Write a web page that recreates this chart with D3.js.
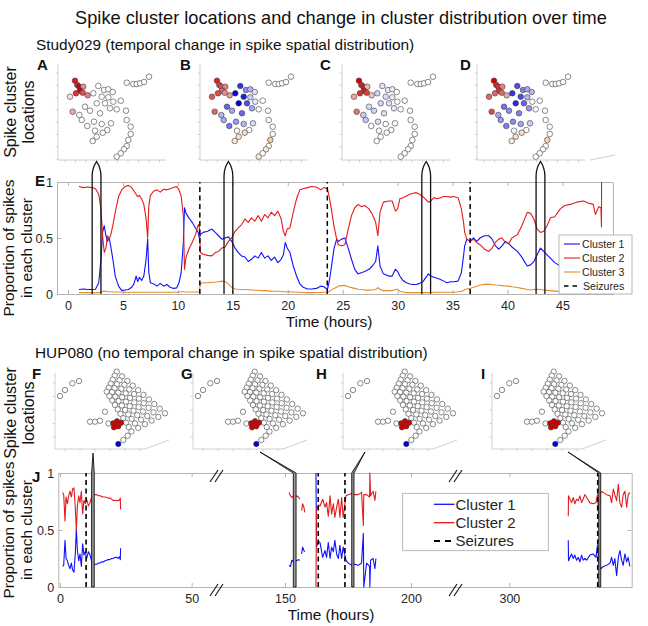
<!DOCTYPE html>
<html><head><meta charset="utf-8">
<script src="https://cdn.jsdelivr.net/npm/d3@7"></script>
<style>body{margin:0;background:#fff}</style>
</head><body>
<svg id="fig" width="648" height="626" xmlns="http://www.w3.org/2000/svg"></svg>
<script>
// ---------------- DATA ----------------
// Study029 proportion of spikes per cluster (panel E)
const timeE = [1.0,1.4,1.8,2.2,2.5,2.8,3.0,3.15,3.3,3.45,3.6,3.75,3.9,4.1,4.3,4.6,4.9,5.2,5.5,5.8,6.0,6.2,6.35,6.5,6.7,6.9,7.1,7.25,7.35,7.5,7.8,8.1,8.4,8.7,9.0,9.3,9.6,9.9,10.1,10.3,10.5,10.6,10.75,11.0,11.3,11.6,11.85,11.95,12.05,12.3,12.7,13.1,13.4,13.7,14.0,14.3,14.6,14.9,15.2,15.5,15.8,16.1,16.4,16.7,17.0,17.3,17.6,17.9,18.2,18.5,18.8,19.1,19.4,19.6,19.77,19.95,20.2,20.5,20.8,21.1,21.4,21.8,22.2,22.6,23.0,23.3,23.6,23.75,23.9,24.2,24.45,24.6,24.9,25.2,25.5,25.8,26.1,26.4,26.7,27.0,27.4,27.7,28.0,28.2,28.4,28.7,29.2,29.5,29.8,30.0,30.2,30.5,30.8,31.1,31.4,31.7,32.0,32.3,32.6,32.8,33.0,33.3,33.6,33.9,34.2,34.5,34.8,35.1,35.5,35.8,36.0,36.1,36.3,36.6,36.9,37.2,37.5,37.9,38.3,38.6,38.9,39.2,39.5,39.8,40.1,40.4,40.9,41.3,41.6,41.8,42.1,42.4,42.7,43.0,43.3,43.6,43.9,44.3,44.8,45.2,45.7,46.3,46.9,47.4,47.8,48.0,48.3,48.5,48.55,48.56];
const cluster1E = [.04,.045,.04,.04,.042,.10,.31,.55,.61,.52,.47,.50,.42,.30,.16,.07,.03,.035,.04,.06,.09,.16,.11,.15,.12,.16,.30,.49,.20,.10,.09,.07,.095,.07,.085,.06,.05,.055,.10,.19,.46,.77,.72,.68,.64,.59,.55,.50,.53,.55,.56,.58,.55,.52,.49,.50,.51,.47,.41,.37,.34,.33,.29,.31,.34,.32,.37,.32,.34,.30,.33,.28,.31,.35,.46,.41,.37,.25,.16,.09,.06,.045,.045,.05,.07,.065,.04,.10,.19,.40,.49,.47,.49,.50,.41,.31,.22,.18,.19,.20,.22,.25,.29,.43,.25,.18,.16,.16,.22,.20,.16,.12,.10,.09,.086,.085,.095,.11,.15,.18,.16,.15,.14,.13,.115,.10,.11,.11,.115,.19,.34,.43,.49,.47,.50,.47,.50,.52,.52,.49,.43,.40,.43,.47,.45,.42,.38,.33,.28,.25,.26,.29,.35,.41,.38,.35,.32,.28,.25,.22,.20,.18,.17,.16,.17,.22,.19,.20,.38,.00];
const cluster2E = [.96,.95,.955,.95,.94,.89,.76,.52,.37,.41,.52,.49,.53,.62,.73,.87,.93,.96,.97,.95,.92,.89,.87,.88,.85,.80,.68,.50,.78,.88,.92,.93,.91,.935,.93,.94,.95,.96,.93,.875,.70,.22,.33,.40,.46,.53,.62,.60,.37,.355,.345,.34,.37,.38,.41,.42,.47,.50,.56,.59,.62,.67,.64,.68,.65,.70,.65,.71,.68,.73,.70,.74,.67,.56,.52,.58,.59,.73,.85,.93,.94,.95,.96,.955,.93,.95,.94,.88,.80,.61,.49,.44,.43,.44,.58,.70,.77,.80,.78,.79,.76,.71,.64,.52,.73,.82,.83,.83,.74,.76,.85,.86,.875,.89,.90,.905,.89,.87,.84,.82,.83,.86,.85,.86,.87,.87,.865,.87,.86,.76,.64,.55,.49,.47,.49,.46,.44,.40,.38,.41,.46,.49,.50,.46,.45,.50,.53,.61,.68,.73,.72,.67,.58,.55,.56,.61,.68,.69,.76,.79,.80,.82,.83,.81,.80,.71,.78,.77,.60,1.00];
const cluster3E = [.012,.012,.012,.010,.012,.012,.015,.025,.027,.025,.020,.020,.020,.018,.018,.018,.015,.015,.015,.015,.015,.015,.015,.015,.015,.015,.015,.015,.015,.015,.015,.015,.015,.015,.015,.015,.015,.015,.018,.020,.020,.018,.018,.018,.018,.018,.018,.020,.095,.100,.100,.105,.105,.110,.115,.110,.090,.060,.045,.042,.040,.040,.038,.036,.034,.034,.030,.030,.028,.026,.025,.024,.022,.020,.020,.020,.020,.018,.016,.015,.014,.012,.012,.014,.014,.016,.018,.020,.030,.050,.060,.070,.075,.077,.065,.057,.050,.042,.040,.035,.035,.036,.040,.057,.040,.030,.030,.030,.040,.042,.025,.018,.012,.012,.012,.012,.012,.012,.012,.012,.014,.015,.015,.015,.015,.015,.015,.016,.020,.025,.030,.040,.045,.050,.060,.070,.080,.086,.086,.085,.080,.078,.075,.072,.070,.065,.058,.050,.045,.040,.036,.040,.042,.040,.036,.032,.030,.026,.022,.020,.018,.016,.016,.016,.016,.016,.016,.016,.016,.016];
const seizuresE = [12.0, 23.6, 36.6];
const windowsE = [[2.2, 3.0], [14.2, 15.0], [32.2, 33.0], [42.6, 43.4]];
const ticksE = [0, 5, 10, 15, 20, 25, 30, 35, 40, 45];
const ticksY = [0, 0.5, 1];
const legendE = ["Cluster 1", "Cluster 2", "Cluster 3", "Seizures"];

// HUP080 proportion of spikes per cluster (panel J); null = gap in recording
const timeJ = [1.0,1.4,1.9,2.3,2.8,3.3,3.8,4.3,4.8,5.3,5.8,6.2,6.6,7.1,7.6,8.1,8.6,9.1,9.6,10.1,10.8,11.4,12.0,12.6,13.3,13.9,14.6,15.2,15.8,16.4,17.1,17.7,18.3,18.9,19.6,20.2,20.9,21.5,22.0,22.5,22.9,23.0,null,
  151.6,152.2,152.7,153.3,154.0,154.6,155.3,155.9,null,156.6,157.0,157.5,157.9,null,
  162.3,162.5,163.2,163.9,164.95,165.9,166.5,167.2,167.9,168.5,169.2,169.8,170.5,171.2,171.8,172.5,173.1,174.2,175.1,176.4,177.8,179.1,180.4,181.1,181.3,182.4,183.6,183.7,184.0,185.0,185.7,186.1,null,
  323.4,323.5,324.7,325.4,326.0,326.7,327.4,328.0,328.7,329.3,330.0,330.7,332.0,333.3,334.4,335.0,335.5,336.3,337.3,338.6,340.0,340.6,341.3,341.9,342.6,343.3,343.9,344.6,345.2,345.9,346.6,347.2,347.9];
const cluster1J = [.18,.19,.41,.25,.23,.19,.16,.21,.15,.13,.29,.51,.32,.23,.29,.18,.38,.28,.31,.25,.31,.28,.23,.19,.20,.20,.21,.21,.22,.22,.23,.235,.24,.24,.25,.25,.26,.26,.25,.265,.24,.34,null,
  .19,.18,.235,.22,.24,.23,.24,.235,null,.29,.35,.32,.31,null,
  1.0,.35,.40,.39,.26,.32,.26,.39,.25,.35,.31,.41,.29,.25,.365,.25,.35,.235,.21,.19,.20,.19,.21,.47,.0,.21,.18,.0,.235,.25,.16,.25,null,
  .41,.23,.29,.25,.28,.235,.26,.22,.28,.235,.25,.235,.28,.29,.26,.365,.21,.16,.18,.19,.21,.26,.19,.25,.10,.26,.32,.235,.19,.29,.22,.26,.18];
const cluster2J = [.83,.81,.58,.79,.73,.80,.84,.79,.86,.87,.70,.50,.71,.80,.74,.84,.64,.76,.73,.77,.71,.74,.79,.81,.81,.81,.80,.80,.795,.79,.79,.785,.78,.78,.77,.76,.76,.757,.76,.76,.78,.68,null,
  .83,.80,.785,.80,.785,.80,.79,.77,null,.67,.73,.70,.655,null,
  0.0,.67,.72,.71,.77,.70,.74,.62,.80,.64,.73,.61,.70,.77,.61,.785,.61,.80,.81,.82,.81,.81,.83,.54,.81,.81,.79,1.0,.80,.84,.76,.84,null,
  .62,.80,.74,.785,.73,.77,.757,.80,.74,.77,.81,.785,.74,.73,.74,.81,.61,.84,.83,.81,.80,.74,.86,.81,.757,.90,.74,.70,.81,.84,.70,.81,.83];
const seizuresJ = [9.9, 163.2, 173.8, 335.1];
const windowsJ = [[12.0, 13.0], [153.3, 154.4], [176.5, 177.4], [335.5, 336.3]];
const ticksJ = [0, 50, 150, 200, 300];
const breaksJ = [60, 218.3];
const legendJ = ["Cluster 1", "Cluster 2", "Seizures"];

// Study029 electrode locations (panel units) and per-panel cluster weights [electrode#, cluster, weight]
const elec029 = [[17,79.3],[19.3,75],[21.3,73.3],[25.3,73.3],[22,69.3],[24.7,67.3],[18,66.7],[29.7,64.7],[12,63.3],[14.7,48.3],
  [40.3,74],[35.3,66.7],[46,70],[50.3,70.7],[54.7,68],[43.7,63.3],[50.3,62.7],[38.7,56.7],[47,56.7],[55.3,58.3],
  [62.7,59.3],[27,53.3],[32,49.3],[42,46.7],[52,51.7],[58.7,50.7],[68,49.3],[21.3,45],[23.7,40],[29.3,34],
  [36,38.3],[43.7,36],[53,36.7],[49.3,30],[68.7,40],[72.7,33.3],[72.7,26],[70.3,20],[68.7,14],[66,10.7],
  [62.7,6.7],[58.7,3.3],[37,29.3],[44.7,27.3],[38.7,23.3],[34.7,19],[68.7,77.3],[75.3,76],[78.7,76],[82,76.7],
  [86,78],[91,83.3]];
const colorsA = [[1,2,.9],[2,2,.85],[3,2,1],[4,2,.45],[5,2,1],[6,2,.7],[7,2,.8],[8,2,.5],[9,2,.12],[10,2,.35]];
const colorsB = [[1,2,.85],[2,2,.75],[3,2,.7],[4,2,.5],[5,2,.6],[6,2,.45],[7,2,.7],[8,2,.4],[9,2,.65],[10,2,.6],
  [11,1,.8],[12,1,1],[13,1,.45],[14,1,.3],[15,1,.12],[16,1,.9],[17,1,.2],[18,1,1],[19,1,.7],[20,1,.1],[22,1,.6],[23,1,.35],[24,1,.6],[25,1,.35],
  [28,1,.3],[29,1,.35],[30,1,.55],[31,1,.4],[32,1,.3],[33,1,.15],[44,3,.35],[45,3,.3],[46,3,.25],[38,3,.5],[40,3,.2],[42,3,.2]];
const colorsC = [[1,2,1],[2,2,.85],[3,2,.9],[4,2,.3],[5,2,.9],[6,2,.75],[7,2,.8],[8,2,.25],[9,2,.35],[10,2,.55],
  [11,1,.12],[12,1,.18],[13,1,.1],[14,1,.08],[16,1,.14],[17,1,.08],[18,1,.18],[19,1,.12],[22,1,.14],[23,1,.18],[24,1,.14],[25,1,.1],[28,1,.2],[29,1,.22],[31,1,.14]];
const colorsD = [[1,2,1],[2,2,.85],[3,2,.8],[4,2,.5],[5,2,.8],[6,2,.6],[7,2,.6],[8,2,.35],[9,2,.6],[10,2,.7],
  [11,1,.7],[12,1,.8],[13,1,.5],[14,1,.35],[15,1,.3],[16,1,.7],[17,1,.3],[18,1,.85],[19,1,.6],[22,1,.55],[23,1,.45],[24,1,.5],[25,1,.4],
  [28,1,.35],[29,1,.4],[30,1,.5],[31,1,.45],[32,1,.35],[33,1,.2],[44,3,.35],[45,3,.3],[46,3,.2],[38,3,.45]];
const panels029 = ["A", "B", "C", "D"];

// HUP080 electrode locations (panel units)
const hupGridCorners = [[61.7,77.3],[110,35.7],[76.5,17.5],[51.7,57.3]]; // top, right, bottom, left of the grid
const hupGridSize = [10, 6];
const hupStrips = [[5,53],[10,59],[17.3,65.7],[24,68],[35,27.3],[40,27.3],[45,28.3],[50,37.3],[53.5,25.5],[68.3,9],[72.7,13.3]];
const hupCluster2 = [[58.3,25.7],[62,27.7],[66,26.3],[59,21.7],[63.3,22.7]];
const hupCluster1 = [[63.3,5]];
const panelsHUP = ["F", "G", "H", "I"];

// ---------------- LAYOUT / STYLE ----------------
const FONT = "'Liberation Sans', Arial, Helvetica, sans-serif";
const AX = "#b4b4b4", TXT = "#262626";
const COL = {1: "#1010ff", 2: "#e41a1c", 3: "#e38c2a"};
const DOT = {1: "#0000e0", 2: "#d40000", 3: "#e89a48"};
const svg = d3.select("#fig");
const T = (x, y, s, size, opts = {}) => svg.append("text").attr("x", x).attr("y", y)
  .attr("font-family", FONT).attr("font-size", size).attr("fill", opts.fill || "#111")
  .attr("font-weight", opts.bold ? "bold" : null).attr("text-anchor", opts.anchor || "start").text(s);

T(341, 24, "Spike cluster locations and change in cluster distribution over time", 18.2, {anchor: "middle"});
T(36, 50, "Study029 (temporal change in spike spatial distribution)", 15.4);
T(35, 358, "HUP080 (no temporal change in spike spatial distribution)", 15.4);

function vlabel(cx, cy, lines, size) {
  const g = svg.append("g").attr("transform", `translate(${cx},${cy}) rotate(-90)`);
  lines.forEach((s, i) => g.append("text").attr("x", 0).attr("y", i * 18).attr("text-anchor", "middle")
    .attr("font-family", FONT).attr("font-size", size).attr("fill", "#111").text(s));
}
vlabel(16, 112, ["Spike cluster", "locations"], 16);
vlabel(14, 248, ["Proportion of spikes", "in each cluster"], 15.5);
vlabel(16, 413, ["Spike cluster", "locations"], 16);
vlabel(14, 530, ["Proportion of spikes", "in each cluster"], 15.5);

function dotColor(cl, w) { return d3.interpolateRgb("#ffffff", DOT[cl])(w); }

// ---------- Study029 electrode panels ----------
const lefts029 = [58, 200, 342, 477];
const labelX029 = [37, 180, 320, 460];
panels029.forEach((p, k) => {
  const left = lefts029[k];
  const xs = d3.scaleLinear().domain([0, 105]).range([left, left + 105]);
  const ys = d3.scaleLinear().domain([0, 96]).range([160, 64]);
  const g = svg.append("g");
  g.append("line").attr("x1", left).attr("x2", left).attr("y1", 64).attr("y2", 160).attr("stroke", "#d0d0d0");
  g.append("line").attr("x1", left).attr("x2", left + 108).attr("y1", 160).attr("y2", 160).attr("stroke", "#d0d0d0");
  if (k === 3) g.append("line").attr("x1", left + 113).attr("x2", left + 138).attr("y1", 160).attr("y2", 155).attr("stroke", "#d0d0d0");
  d3.range(0, 8).forEach(i => g.append("line").attr("x1", left - 2.5).attr("x2", left).attr("y1", 73 + i * 12.3).attr("y2", 73 + i * 12.3).attr("stroke", "#d0d0d0"));
  d3.range(0, 10).forEach(i => g.append("line").attr("x1", left + 7 + i * 10.5).attr("x2", left + 7 + i * 10.5).attr("y1", 160).attr("y2", 162.5).attr("stroke", "#d0d0d0"));
  const cols = [colorsA, colorsB, colorsC, colorsD][k];
  const fill = elec029.map(() => "#ffffff");
  cols.forEach(([e, cl, w]) => { fill[e - 1] = dotColor(cl, w); });
  g.selectAll("circle").data(elec029).join("circle")
    .attr("cx", d => xs(d[0])).attr("cy", d => ys(d[1])).attr("r", 2.8)
    .attr("fill", (d, i) => fill[i]).attr("stroke", "#3c3c3c").attr("stroke-width", 0.6);
  T(labelX029[k], 70, p, 15, {bold: true});
});

// ---------- HUP080 electrode panels ----------
const leftsHUP = [55, 193, 343, 492];
const labelXHUP = [32, 181, 316, 481];
function gridPos(i, j) {
  const [tp, rp, bp, lp] = hupGridCorners;
  const u = i / (hupGridSize[0] - 1), v = j / (hupGridSize[1] - 1);
  return [0, 1].map(c => (1 - u) * (1 - v) * tp[c] + u * (1 - v) * rp[c] + (1 - u) * v * lp[c] + u * v * bp[c]);
}
const hupGrid = [];
d3.range(hupGridSize[1]).forEach(j => d3.range(hupGridSize[0]).forEach(i => hupGrid.push(gridPos(i, j))));
panelsHUP.forEach((p, k) => {
  const left = leftsHUP[k];
  const xs = d3.scaleLinear().domain([0, 100]).range([left, left + 100]);
  const ys = d3.scaleLinear().domain([0, 80]).range([449, 369]);
  const g = svg.append("g");
  g.append("line").attr("x1", left).attr("x2", left).attr("y1", 373).attr("y2", 449).attr("stroke", "#d0d0d0");
  g.append("line").attr("x1", left).attr("x2", left + 90).attr("y1", 449).attr("y2", 449).attr("stroke", "#d0d0d0");
  g.append("line").attr("x1", left + 90).attr("x2", left + 114).attr("y1", 449).attr("y2", 440).attr("stroke", "#d0d0d0");
  d3.range(0, 5).forEach(i => g.append("line").attr("x1", left - 2.5).attr("x2", left).attr("y1", 383 + i * 13.5).attr("y2", 383 + i * 13.5).attr("stroke", "#d0d0d0"));
  d3.range(0, 6).forEach(i => g.append("line").attr("x1", left + 10 + i * 15).attr("x2", left + 10 + i * 15).attr("y1", 449).attr("y2", 451.5).attr("stroke", "#d0d0d0"));
  const all = hupGrid.map(d => [d, "#ffffff"]).concat(hupStrips.map(d => [d, "#ffffff"]))
    .concat(hupCluster2.map(d => [d, dotColor(2, 1)])).concat(hupCluster1.map(d => [d, DOT[1]]));
  g.selectAll("circle").data(all).join("circle")
    .attr("cx", d => xs(d[0][0])).attr("cy", d => ys(d[0][1])).attr("r", 2.7)
    .attr("fill", d => d[1]).attr("stroke", "#3c3c3c").attr("stroke-width", 0.6);
  T(labelXHUP[k], 379, p, 15, {bold: true});
});

// ---------- axis helper ----------
function styleAxis(g, size) {
  g.attr("font-family", FONT).attr("font-size", size);
  g.selectAll(".domain").attr("stroke", AX);
  g.selectAll(".tick line").attr("stroke", AX);
  g.selectAll(".tick text").attr("fill", TXT);
}

// ---------- Panel E ----------
const xE = d3.scaleLinear().domain([-1, 49.6]).range([57, 613]);
const yE = d3.scaleLinear().domain([0, 1]).range([294, 182]);
const fmt = d3.format("~g");
styleAxis(svg.append("g").attr("transform", "translate(0,294)").call(d3.axisBottom(xE).tickValues(ticksE).tickSize(-4).tickSizeOuter(0).tickPadding(7)), 12.5);
styleAxis(svg.append("g").attr("transform", "translate(0,182)").call(d3.axisTop(xE).tickValues(ticksE).tickSize(-4).tickSizeOuter(0).tickFormat("")), 12);
styleAxis(svg.append("g").attr("transform", "translate(57,0)").call(d3.axisLeft(yE).tickValues(ticksY).tickSize(-4).tickSizeOuter(0).tickPadding(4).tickFormat(fmt)), 12.5);
styleAxis(svg.append("g").attr("transform", "translate(613,0)").call(d3.axisRight(yE).tickValues(ticksY).tickSize(-4).tickSizeOuter(0).tickFormat("")), 12);
T(329, 327, "Time (hours)", 15.4, {anchor: "middle"});
T(35, 186, "E", 15, {bold: true});

const lineE = vals => d3.line().x((d, i) => xE(timeE[i])).y(d => yE(d))(vals);
[[cluster3E, 3], [cluster1E, 1], [cluster2E, 2]].forEach(([v, c]) =>
  svg.append("path").attr("d", lineE(v)).attr("fill", "none").attr("stroke", COL[c]).attr("stroke-width", 1.1).attr("stroke-linejoin", "round"));
seizuresE.forEach(s => svg.append("line").attr("x1", xE(s)).attr("x2", xE(s)).attr("y1", yE(0)).attr("y2", yE(1))
  .attr("stroke", "#000").attr("stroke-width", 1.5).attr("stroke-dasharray", "5,3.5"));
windowsE.forEach(([a, b]) => {
  const x1 = xE(a), x2 = xE(b), xm = (x1 + x2) / 2;
  const p = `M${x1},${yE(0)} V176 Q${x1},168 ${xm},161.5 Q${x2},168 ${x2},176 V${yE(0)}`;
  svg.append("path").attr("d", p).attr("fill", "none").attr("stroke", "#111").attr("stroke-width", 1.3);
});
// legend E
{
  const g = svg.append("g");
  g.append("rect").attr("x", 559).attr("y", 235).attr("width", 73).attr("height", 59).attr("fill", "#fff").attr("stroke", "#a8a8a8").attr("stroke-width", 0.8);
  legendE.forEach((s, i) => {
    const y = 244 + i * 14;
    const ln = g.append("line").attr("x1", 564).attr("x2", 580).attr("y1", y).attr("y2", y);
    if (i < 3) ln.attr("stroke", COL[i + 1]).attr("stroke-width", 1.1);
    else ln.attr("stroke", "#000").attr("stroke-width", 1.5).attr("stroke-dasharray", "4.5,4");
    g.append("text").attr("x", i < 3 ? 582 : 583).attr("y", y + 3.8).attr("font-family", FONT).attr("font-size", 10.6).attr("fill", TXT).text(s);
  });
}

// ---------- Panel J ----------
const xJ = d3.scaleLinear().domain([-0.65, breaksJ[0], 123.4, breaksJ[1], 279.2, 348.6]).range([58.3, 218, 218, 457, 457, 631.7]);
const yJ = d3.scaleLinear().domain([0, 1]).range([587, 473]);
styleAxis(svg.append("g").attr("transform", "translate(0,587)").call(d3.axisBottom(xJ).tickValues(ticksJ).tickSize(-4).tickSizeOuter(0).tickPadding(7)), 12.5);
styleAxis(svg.append("g").attr("transform", "translate(0,473)").call(d3.axisTop(xJ).tickValues(ticksJ).tickSize(-4).tickSizeOuter(0).tickFormat("")), 12);
styleAxis(svg.append("g").attr("transform", "translate(58.3,0)").call(d3.axisLeft(yJ).tickValues(ticksY).tickSize(-4).tickSizeOuter(0).tickPadding(4).tickFormat(fmt)), 12.5);
styleAxis(svg.append("g").attr("transform", "translate(631.7,0)").call(d3.axisRight(yJ).tickValues(ticksY).tickSize(-4).tickSizeOuter(0).tickFormat("")), 12);
T(331, 620, "Time (hours)", 15.4, {anchor: "middle"});
T(32, 482, "J", 15, {bold: true});

const lineJ = vals => d3.line().defined((d, i) => d != null && timeJ[i] != null).x((d, i) => xJ(timeJ[i])).y(d => yJ(d))(vals);
[[cluster1J, 1], [cluster2J, 2]].forEach(([v, c]) =>
  svg.append("path").attr("d", lineJ(v)).attr("fill", "none").attr("stroke", COL[c]).attr("stroke-width", 1.1).attr("stroke-linejoin", "round"));
seizuresJ.forEach(s => svg.append("line").attr("x1", xJ(s)).attr("x2", xJ(s)).attr("y1", yJ(0)).attr("y2", yJ(1))
  .attr("stroke", "#000").attr("stroke-width", 1.6).attr("stroke-dasharray", "5,3.5"));
const tipsJ = [[93, 453], [260, 452], [365, 452], [568, 452]];
windowsJ.forEach(([a, b], k) => {
  const x1 = xJ(a), x2 = xJ(b), [tx, ty] = tipsJ[k];
  svg.append("polygon").attr("points", `${x1},${yJ(0)} ${x1},${yJ(1)} ${tx},${ty} ${x2},${yJ(1)} ${x2},${yJ(0)}`)
    .attr("fill", "#9a9a9a").attr("stroke", "#111").attr("stroke-width", 0.9).attr("stroke-linejoin", "miter");
});
// axis breaks
breaksJ.forEach(b => {
  const bx = xJ(b);
  [yJ(1), yJ(0)].forEach(y0 => {
    [-4, 1].forEach(dx => svg.append("line").attr("x1", bx + dx - 4).attr("y1", y0 + 9).attr("x2", bx + dx + 4).attr("y2", y0 - 3)
      .attr("stroke", "#111").attr("stroke-width", 1.1));
  });
});
// legend J
{
  const g = svg.append("g");
  g.append("rect").attr("x", 402.7).attr("y", 493.3).attr("width", 145.6).attr("height", 57.4).attr("fill", "#fff").attr("stroke", "#a8a8a8").attr("stroke-width", 0.8);
  legendJ.forEach((s, i) => {
    const y = 504.3 + i * 18.4;
    const ln = g.append("line").attr("x1", 434).attr("x2", 454.5).attr("y1", y).attr("y2", y);
    if (i < 2) ln.attr("stroke", COL[i + 1]).attr("stroke-width", 1.3);
    else ln.attr("stroke", "#000").attr("stroke-width", 2).attr("stroke-dasharray", "6,5");
    g.append("text").attr("x", 455.5).attr("y", y + 5.3).attr("font-family", FONT).attr("font-size", 15).attr("fill", TXT).text(s);
  });
}
</script>
</body></html>
